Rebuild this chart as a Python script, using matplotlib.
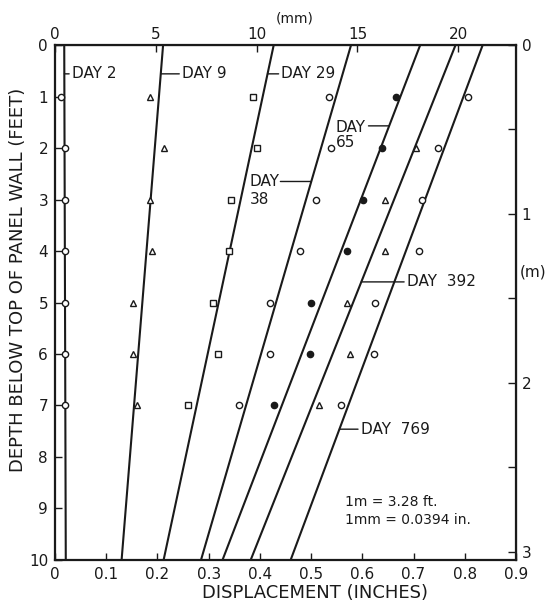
import numpy as np
import matplotlib
matplotlib.use("Agg")
import matplotlib.pyplot as plt

# depths of the readings (feet)
depths = [1, 2, 3, 4, 5, 6, 7]

day2_pts = [0.012, 0.02, 0.02, 0.02, 0.02, 0.02, 0.02]
day9_pts = [0.186, 0.213, 0.186, 0.189, 0.153, 0.153, 0.161]
day29_pts = [0.387, 0.394, 0.344, 0.340, 0.308, 0.319, 0.260]
day38_pts = [0.535, 0.539, 0.509, 0.479, 0.420, 0.419, 0.360]
day65_pts = [0.665, 0.639, 0.601, 0.570, 0.499, 0.498, 0.428]
day392_depths = [2, 3, 4, 5, 6, 7]
day392_pts = [0.704, 0.645, 0.645, 0.570, 0.576, 0.516]
day769_pts = [0.806, 0.747, 0.716, 0.710, 0.624, 0.622, 0.558]

# fitted lines: displacement at depth 0 ft and at depth 10 ft
line_names = ["DAY 2", "DAY 9", "DAY 29", "DAY 38", "DAY 65", "DAY 392", "DAY 769"]
line_top = [0.018, 0.211, 0.427, 0.578, 0.713, 0.782, 0.835]
line_bot = [0.021, 0.130, 0.212, 0.285, 0.327, 0.382, 0.460]

ink = "#1a1a1a"
plt.rcParams["font.family"] = ["DejaVu Sans"]

fig = plt.figure(figsize=(5.48, 6.05), dpi=100)
ax = fig.add_axes([0.1004, 0.0744, 0.8412, 0.8512])

for t, b in zip(line_top, line_bot):
    ax.plot([t, b], [0, 10], color=ink, lw=1.5)

ms = 4.5
ax.plot(day2_pts, depths, "o", mfc="white", mec=ink, ms=ms, mew=1)
ax.plot(day9_pts, depths, "^", mfc="white", mec=ink, ms=ms, mew=1)
ax.plot(day29_pts, depths, "s", mfc="white", mec=ink, ms=ms, mew=1)
ax.plot(day38_pts, depths, "o", mfc="white", mec=ink, ms=ms, mew=1)
ax.plot(day65_pts, depths, "o", mfc=ink, mec=ink, ms=ms, mew=1)
ax.plot(day392_pts, day392_depths, "^", mfc="white", mec=ink, ms=ms, mew=1)
ax.plot(day769_pts, depths, "o", mfc="white", mec=ink, ms=ms, mew=1)

ax.set_xlim(0, 0.9)
ax.set_ylim(10, 0)

fs = 11
lead = dict(arrowstyle="-", color=ink, lw=1, shrinkA=0, shrinkB=0)

def line_x(i, d):
    return line_top[i] + (line_bot[i] - line_top[i]) * d / 10.0

# labels with short leader lines
ax.annotate("DAY 2", xy=(line_x(0, 0.56), 0.56), xytext=(0.033, 0.56),
            fontsize=fs, va="center", ha="left", color=ink, arrowprops=lead)
ax.annotate("DAY 9", xy=(line_x(1, 0.56), 0.56), xytext=(0.248, 0.56),
            fontsize=fs, va="center", ha="left", color=ink, arrowprops=lead)
ax.annotate("DAY 29", xy=(line_x(2, 0.56), 0.56), xytext=(0.442, 0.56),
            fontsize=fs, va="center", ha="left", color=ink, arrowprops=lead)
ax.annotate("", xy=(line_x(3, 2.65), 2.65), xytext=(0.44, 2.65), arrowprops=lead)
ax.text(0.380, 2.65, "DAY", fontsize=fs, va="center", ha="left", color=ink)
ax.text(0.380, 3.0, "38", fontsize=fs, va="center", ha="left", color=ink)
ax.annotate("", xy=(line_x(4, 1.57), 1.57), xytext=(0.612, 1.57), arrowprops=lead)
ax.text(0.548, 1.6, "DAY", fontsize=fs, va="center", ha="left", color=ink)
ax.text(0.548, 1.9, "65", fontsize=fs, va="center", ha="left", color=ink)
ax.annotate("DAY  392", xy=(line_x(5, 4.6), 4.6), xytext=(0.687, 4.6),
            fontsize=fs, va="center", ha="left", color=ink, arrowprops=lead)
ax.annotate("DAY  769", xy=(line_x(6, 7.46), 7.46), xytext=(0.597, 7.46),
            fontsize=fs, va="center", ha="left", color=ink, arrowprops=lead)

ax.text(0.566, 8.87, "1m = 3.28 ft.", fontsize=10, va="center", ha="left", color=ink)
ax.text(0.566, 9.22, "1mm = 0.0394 in.", fontsize=10, va="center", ha="left", color=ink)

# bottom / left axes
ax.set_xticks(np.arange(0, 0.91, 0.1))
ax.set_xticklabels(["0", "0.1", "0.2", "0.3", "0.4", "0.5", "0.6", "0.7", "0.8", "0.9"])
ax.set_yticks(range(0, 11))
ax.tick_params(direction="in", length=5, width=1, colors=ink, labelsize=fs, pad=5)
fig.text(315 / 548, 1 - 593 / 605, "DISPLACEMENT (INCHES)", fontsize=13, color=ink,
         ha="center", va="center")
fig.text(18 / 548, 1 - 280 / 605, "DEPTH BELOW TOP OF PANEL WALL (FEET)", fontsize=13,
         color=ink, ha="center", va="center", rotation=90)
for s in ax.spines.values():
    s.set_linewidth(1.6)
    s.set_color(ink)

# top axis in mm
top = ax.secondary_xaxis("top", functions=(lambda x: x * 25.4, lambda x: x / 25.4))
top.set_xticks([0, 5, 10, 15, 20])
top.tick_params(direction="in", length=5, width=1, colors=ink, labelsize=fs, pad=2)
fig.text(295 / 548, 1 - 18 / 605, "(mm)", fontsize=10, color=ink, ha="center", va="center")

# right axis in m
right = ax.secondary_yaxis("right", functions=(lambda y: y / 3.28, lambda y: y * 3.28))
right.set_yticks([0, 1, 2, 3])
right.set_yticks([0.5, 1.5, 2.5], minor=True)
right.tick_params(which="both", direction="in", length=6, width=1, colors=ink,
                  labelsize=fs, pad=4)
fig.text(0.948, 1 - 272 / 605, "(m)", fontsize=11, color=ink, va="center", ha="left")

fig.savefig("out.png", dpi=100, facecolor="white")
